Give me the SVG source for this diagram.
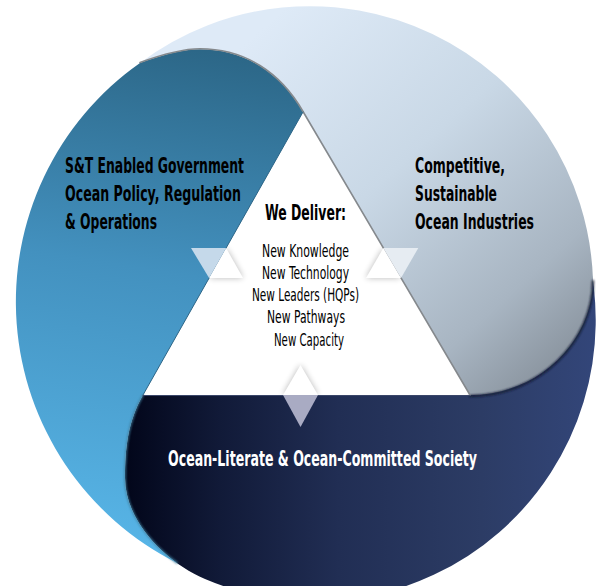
<svg xmlns="http://www.w3.org/2000/svg" width="596" height="586" viewBox="0 0 596 586">
<defs>
  <linearGradient id="gNavy" gradientUnits="userSpaceOnUse" x1="125" y1="0" x2="600" y2="0">
    <stop offset="0" stop-color="#02061a"/>
    <stop offset="0.2" stop-color="#111a38"/>
    <stop offset="0.45" stop-color="#212e54"/>
    <stop offset="0.75" stop-color="#2c3c65"/>
    <stop offset="1" stop-color="#33467a"/>
  </linearGradient>
  <linearGradient id="gTeal" gradientUnits="userSpaceOnUse" x1="230" y1="45" x2="150" y2="560">
    <stop offset="0" stop-color="#2b6585"/>
    <stop offset="0.45" stop-color="#4391bf"/>
    <stop offset="1" stop-color="#58b6e8"/>
  </linearGradient>
  <linearGradient id="gLight" gradientUnits="userSpaceOnUse" x1="260" y1="30" x2="585" y2="390">
    <stop offset="0" stop-color="#deeaf7"/>
    <stop offset="0.4" stop-color="#c9d8e6"/>
    <stop offset="0.75" stop-color="#a8b5c2"/>
    <stop offset="1" stop-color="#7e8791"/>
  </linearGradient>
  <filter id="blur" x="-50%" y="-50%" width="200%" height="200%">
    <feGaussianBlur stdDeviation="3"/>
  </filter>
  <filter id="soft" x="-10%" y="-10%" width="120%" height="120%">
    <feGaussianBlur stdDeviation="0.8"/>
  </filter>
  <clipPath id="triClip">
    <polygon points="303,112 470,395 143,395"/>
  </clipPath>
</defs>
<style>
  .hd { font-family: 'Liberation Sans Narrow', 'DejaVu Sans Condensed', 'Liberation Sans', sans-serif; font-weight: 700; font-size: 22px; fill: #000; }
  .wh { fill: #ffffff; }
  .dl { font-family: 'Liberation Sans Narrow', 'DejaVu Sans Condensed', 'Liberation Sans', sans-serif; font-weight: 700; font-size: 21px; fill: #000; }
  .li { font-family: 'Liberation Sans Narrow', 'DejaVu Sans Condensed', 'Liberation Sans', sans-serif; font-weight: 400; font-size: 18px; fill: #000; }
  .edge { fill: none; stroke-linecap: round; }
  .shadow { fill: #000; opacity: 0.28; filter: url(#blur); }
  .up { fill: #ffffff; }
</style>

<g id="segment-society">
  <path d="M 143 395 L 470 395 L 586 247 A 281 281 0 0 1 205 579 C 168 563.4 125 523 125 478 C 125 448 128 421 143 395 Z" fill="url(#gNavy)"/>
  <text class="hd wh" x="168" y="466" textLength="309" lengthAdjust="spacingAndGlyphs">Ocean-Literate &amp; Ocean-Committed Society</text>
</g>

<g id="segment-industries">
  <path d="M 303 112 L 470 395 C 540 395 593 340 593 280 A 283 283 0 0 0 140 63 C 157 56.9 180 49.3 200 49.3 C 245 49.3 280.5 73 303 112 Z" fill="url(#gLight)"/>
  <path class="edge" d="M 470 396 C 540 396 593 341 593 281" stroke="#141c33" stroke-width="2.2" filter="url(#soft)"/>
  <text class="hd" x="415" y="173" textLength="90" lengthAdjust="spacingAndGlyphs">Competitive,</text>
  <text class="hd" x="415" y="201" textLength="82" lengthAdjust="spacingAndGlyphs">Sustainable</text>
  <text class="hd" x="415" y="229" textLength="119" lengthAdjust="spacingAndGlyphs">Ocean Industries</text>
</g>

<g id="segment-government">
  <path d="M 303 112 L 143 395 C 128 421 125 448 125 478 C 125 511.75 149.2 542.9 177.1 563 A 292 292 0 0 1 140 63 C 157 56.9 180 49.3 200 49.3 C 245 49.3 280.5 73 303 112 Z" fill="url(#gTeal)"/>
  <path class="edge" d="M 143 395 C 128 421 125 448 125 478 C 125 511.75 149.2 542.9 177.1 563" stroke="#3f7f9f" stroke-width="1.6" filter="url(#soft)"/>
  <path class="edge" d="M 140 62.5 C 157 56.4 180 48.8 200 48.8 C 245 48.8 280.5 72.5 303 111.5 L 470 395" stroke="#85898d" stroke-width="1.6"/>
  <path class="edge" d="M 303 112 L 143 395" stroke="#2c6587" stroke-width="1"/>
  <path class="edge" d="M 143 395.5 L 470 395.5" stroke="#3a4669" stroke-width="1"/>
  <text class="hd" x="65" y="173" textLength="179" lengthAdjust="spacingAndGlyphs">S&amp;T Enabled Government</text>
  <text class="hd" x="65" y="201" textLength="176" lengthAdjust="spacingAndGlyphs">Ocean Policy, Regulation</text>
  <text class="hd" x="65" y="229" textLength="92" lengthAdjust="spacingAndGlyphs">&amp; Operations</text>
</g>

<g id="markers">
  <g clip-path="url(#triClip)">
    <polygon class="shadow" points="226.1,248 209.1,278 243.1,278"/>
    <polygon class="shadow" points="383.3,248 366,278 401,278"/>
    <polygon class="shadow" points="300.5,365 283,395 318,395"/>
  </g>
  <g id="marker-left">
    <polygon class="up" points="226.1,248 209.1,278 243.1,278"/>
    <polygon points="191,248 226.1,248 209.1,278" fill="#c5d9ea"/>
  </g>
  <g id="marker-right">
    <polygon class="up" points="383.3,248 366,278 401,278"/>
    <polygon points="383.3,248 418.3,248 401,278" fill="#e6ecf2"/>
  </g>
  <g id="marker-bottom">
    <polygon class="up" points="300.5,365 283,395 318,395"/>
    <polygon points="283,395 318,395 300.5,427" fill="#a9abc3"/>
  </g>
</g>

<g id="center-we-deliver">
  <text class="dl" x="265" y="220" textLength="81" lengthAdjust="spacingAndGlyphs">We Deliver:</text>
  <text class="li" x="262" y="257" textLength="87" lengthAdjust="spacingAndGlyphs">New Knowledge</text>
  <text class="li" x="262" y="279" textLength="87" lengthAdjust="spacingAndGlyphs">New Technology</text>
  <text class="li" x="252" y="301" textLength="107" lengthAdjust="spacingAndGlyphs">New Leaders (HQPs)</text>
  <text class="li" x="267" y="323" textLength="78" lengthAdjust="spacingAndGlyphs">New Pathways</text>
  <text class="li" x="274" y="345.5" textLength="70" lengthAdjust="spacingAndGlyphs">New Capacity</text>
</g>
</svg>
